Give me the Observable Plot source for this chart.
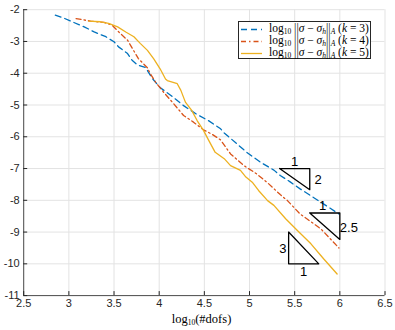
<!DOCTYPE html>
<html>
<head>
<meta charset="utf-8">
<script src="https://cdn.jsdelivr.net/npm/d3@7"></script>
<script src="https://cdn.jsdelivr.net/npm/@observablehq/plot@0.6"></script>
<style>
  html, body { margin: 0; padding: 0; background: #fff; }
  #wrap { position: relative; width: 395px; height: 330px; overflow: hidden; }
  #legend { position: absolute; left: 237.5px; top: 20.5px; width: 133.5px; height: 38px;
    border: 1px solid #262626; background: #fff; box-sizing: border-box;
    font-family: "Liberation Serif", "DejaVu Serif", serif; font-size: 11.5px; color: #000; }
  .row { position: absolute; left: 0; height: 12px; width: 100%; }
  .row svg { position: absolute; left: 2px; top: 0; }
  .row .t { position: absolute; left: 30.5px; top: -1px; white-space: nowrap; line-height: 12px; }
  sub { font-size: 7.5px; vertical-align: -2px; line-height: 0; }
  #xlabel { position: absolute; left: 0; width: 403px; top: 312px; text-align: center;
    font-family: "Liberation Serif", "DejaVu Serif", serif; font-size: 12.5px; color: #000; }
</style>
</head>
<body>
<div id="wrap">
  <div id="chart"></div>
  <div id="legend"></div>
  <div id="xlabel">log<sub>10</sub>(#dofs)</div>
</div>
<script>
// ---- data ----
const xTicks = [2.5, 3, 3.5, 4, 4.5, 5, 5.5, 6, 6.5];
const yTicks = [-2, -3, -4, -5, -6, -7, -8, -9, -10, -11];

const k3X = [2.85, 2.94, 3.02, 3.17, 3.28, 3.41, 3.50, 3.55, 3.65, 3.70, 3.76, 3.85, 3.92, 4.01, 4.13, 4.27, 4.42, 4.55, 4.68, 4.72, 4.86, 4.97, 5.12, 5.27, 5.34, 5.45, 5.56, 5.79, 5.99];
const k3Y = [-2.17, -2.26, -2.36, -2.54, -2.70, -2.85, -3.01, -3.17, -3.38, -3.59, -3.74, -3.82, -4.15, -4.45, -4.70, -5.02, -5.30, -5.50, -5.75, -5.88, -6.22, -6.49, -6.80, -7.05, -7.22, -7.42, -7.64, -8.06, -8.43];

const k4X = [3.08, 3.24, 3.39, 3.48, 3.57, 3.65, 3.72, 3.77, 3.87, 3.90, 3.96, 4.05, 4.16, 4.27, 4.38, 4.49, 4.59, 4.68, 4.79, 4.94, 5.08, 5.20, 5.34, 5.42, 5.56, 5.79, 5.99];
const k4Y = [-2.28, -2.36, -2.40, -2.49, -2.75, -2.96, -3.30, -3.54, -3.83, -4.01, -4.28, -4.60, -4.96, -5.33, -5.54, -5.78, -5.93, -6.10, -6.54, -6.91, -7.17, -7.45, -7.82, -8.01, -8.43, -8.90, -9.50];

const k5X = [3.22, 3.35, 3.44, 3.54, 3.63, 3.72, 3.79, 3.87, 3.94, 4.01, 4.07, 4.09, 4.20, 4.24, 4.29, 4.36, 4.42, 4.49, 4.55, 4.62, 4.72, 4.79, 4.90, 4.96, 5.03, 5.10, 5.20, 5.27, 5.40, 5.53, 5.68, 5.82, 5.97];
const k5Y = [-2.36, -2.38, -2.43, -2.54, -2.70, -2.85, -3.06, -3.28, -3.55, -3.86, -4.18, -4.23, -4.33, -4.54, -4.91, -5.17, -5.49, -5.80, -6.12, -6.49, -6.69, -6.91, -7.06, -7.27, -7.43, -7.69, -8.01, -8.16, -8.58, -8.95, -9.37, -9.84, -10.32];

// slope triangles (vertices, closed)
const tri2X = [5.333, 5.667, 5.667, 5.333];
const tri2Y = [-7.0, -7.0, -7.667, -7.0];
const tri25X = [5.667, 6.0, 6.0, 5.667];
const tri25Y = [-8.4, -8.4, -9.233, -8.4];
const tri3X = [5.433, 5.433, 5.767, 5.433];
const tri3Y = [-9.0, -10.0, -10.0, -9.0];

const triLabelText = ["1", "2", "1", "2.5", "3", "1"];
const triLabelX = [5.5, 5.76, 5.81, 6.1, 5.37, 5.6];
const triLabelY = [-6.78, -7.35, -8.17, -8.87, -9.53, -10.24];

const legendLabels = ["3", "4", "5"];
const colors = ["#0072BD", "#D95319", "#EDB120"];
const dashes = ["6,4", "5,3,1.5,3", null];

// ---- build tables ----
const zip = (xs, ys, extra) => xs.map((x, i) => ({x, y: ys[i], ...extra}));
const series = [
  zip(k3X, k3Y, {k: 3}),
  zip(k4X, k4Y, {k: 4}),
  zip(k5X, k5Y, {k: 5})
];
const tris = [
  ...zip(tri2X, tri2Y, {id: "a"}),
  ...zip(tri25X, tri25Y, {id: "b"}),
  ...zip(tri3X, tri3Y, {id: "c"})
];
const triLabels = triLabelText.map((t, i) => ({t, x: triLabelX[i], y: triLabelY[i]}));

const axisColor = "#262626";
const gridColor = "#e3e3e3";

const chart = Plot.plot({
  width: 395,
  height: 330,
  marginLeft: 23.2,
  marginRight: 10.5,
  marginTop: 9.2,
  marginBottom: 34.9,
  style: {fontFamily: "'Liberation Sans', Arial, sans-serif", fontSize: "11px", color: axisColor, background: "#fff"},
  x: {domain: [2.5, 6.5], label: null},
  y: {domain: [-11, -2], label: null},
  marks: [
    Plot.gridX(xTicks, {stroke: gridColor, strokeOpacity: 1}),
    Plot.gridY(yTicks, {stroke: gridColor, strokeOpacity: 1}),
    ...series.map((s, i) => Plot.line(s, {
      x: "x", y: "y", stroke: colors[i], strokeWidth: 1.3,
      strokeDasharray: dashes[i] || undefined, curve: "linear"
    })),
    Plot.line(tris, {x: "x", y: "y", z: "id", stroke: "#000", strokeWidth: 1.3}),
    Plot.text(triLabels, {x: "x", y: "y", text: "t", fontSize: 13, fill: "#000"}),
    Plot.ruleX([2.5], {stroke: axisColor, strokeWidth: 0.8}),
    Plot.ruleY([-11], {stroke: axisColor, strokeWidth: 0.8}),
    Plot.axisX(xTicks, {tickSize: -4, tickPadding: 8, tickFormat: d => String(d), stroke: axisColor, fill: axisColor, label: null}),
    Plot.axisY(yTicks, {tickSize: -4, tickPadding: 8, tickFormat: d => String(d), stroke: axisColor, fill: axisColor, label: null})
  ]
});
document.getElementById("chart").appendChild(chart);

// legend
const leg = document.getElementById("legend");
const rowTops = [1, 13.5, 25];
legendLabels.forEach((k, i) => {
  const row = document.createElement("div");
  row.className = "row";
  row.style.top = rowTops[i] + "px";
  const da = dashes[i] ? `stroke-dasharray="${dashes[i]}"` : "";
  row.innerHTML = `<svg width="24" height="12"><line x1="0" y1="6.5" x2="21" y2="6.5" stroke="${colors[i]}" stroke-width="1.3" ${da}/></svg>` +
    `<div class="t">log<sub>10</sub> ||<i>σ</i> − <i>σ</i><sub><i>h</i></sub>||<sub><i>A</i></sub> (<i>k</i> = ${k})</div>`;
  leg.appendChild(row);
});
</script>
</body>
</html>
